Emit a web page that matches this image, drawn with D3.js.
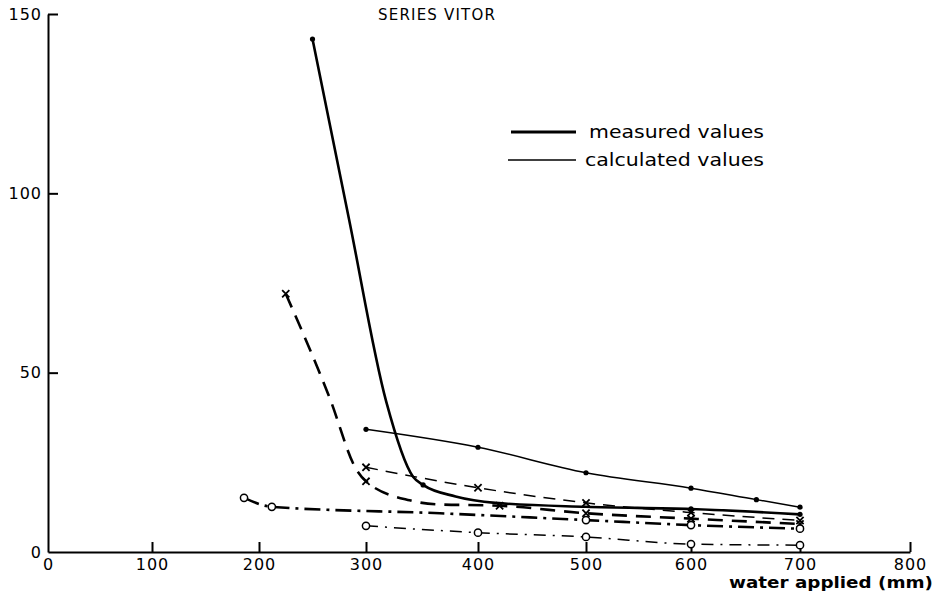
<!DOCTYPE html>
<html>
<head>
<meta charset="utf-8">
<script src="https://cdn.jsdelivr.net/npm/d3@7"></script>
<style>
  body { margin: 0; background: #fff; }
  svg { display: block; }
  text { font-family: "DejaVu Sans", sans-serif; fill: #000; }
</style>
</head>
<body>
<svg width="936" height="599"></svg>
<script>
// axis ticks (the hand drawn x axis is slightly uneven, so ticks map to where they were drawn)
const xTicks = [0, 100, 200, 300, 400, 500, 600, 700, 800];
const xTickPx = [48, 152, 259, 366, 478, 586, 691, 800, 910];
const yTicks = [0, 50, 100, 150];

// measured values (heavy lines)
const measDotX = [250, 284, 318, 342, 351, 380, 416, 500, 600, 700];
const measDotY = [143, 93, 42, 21, 18.7, 15.5, 13.7, 12.6, 12, 10.5];
const measDotMarks = [250, 351, 600, 700];

const measCrossX = [225, 266, 291, 300, 339, 363, 420, 500, 600, 700];
const measCrossY = [72, 43, 23, 19.7, 14.4, 13.3, 12.9, 10.8, 9.3, 7.8];
const measCrossMarks = [225, 300, 420, 500, 600, 700];

const measCircleX = [186, 212, 366, 500, 600, 700];
const measCircleY = [15.1, 12.6, 10.8, 8.9, 7.5, 6.5];
const measCircleMarks = [186, 212, 500, 600, 700];

// calculated values (light lines)
const calcDotX = [300, 400, 500, 600, 660, 700];
const calcDotY = [34.2, 29.2, 22.1, 17.8, 14.6, 12.5];

const calcCrossX = [300, 400, 500, 600, 700];
const calcCrossY = [23.6, 17.9, 13.7, 11, 8.8];

const calcCircleX = [300, 400, 500, 600, 700];
const calcCircleY = [7.3, 5.4, 4.2, 2.2, 1.9];

const svg = d3.select('svg');

const x = d3.scaleLinear().domain(xTicks).range(xTickPx);
const y = d3.scaleLinear().domain([0, 150]).range([552, 14]);

// axes
const xAxis = svg.append('g')
  .attr('transform', `translate(0,${y(0)})`)
  .call(d3.axisBottom(x).tickValues(xTicks).tickSizeInner(-10).tickSizeOuter(0).tickPadding(7));
const yAxis = svg.append('g')
  .attr('transform', `translate(${x(0)},0)`)
  .call(d3.axisLeft(y).tickValues(yTicks).tickSizeInner(-10).tickSizeOuter(0).tickPadding(6));

[xAxis, yAxis].forEach(g => {
  g.attr('font-family', null).attr('font-size', null);
  g.select('.domain').attr('stroke-width', 2);
  g.selectAll('.tick line').attr('stroke-width', 2);
  g.selectAll('.tick text')
    .style('font-size', '16px')
    .style('letter-spacing', '1px');
});
yAxis.selectAll('.tick').filter(d => d === 0).select('line').remove();
xAxis.selectAll('.tick').filter(d => d === 0).select('line').remove();

svg.append('text')
  .attr('x', 378).attr('y', 20)
  .style('font-size', '15px')
  .style('letter-spacing', '1.2px')
  .text('SERIES VITOR');

svg.append('text')
  .attr('x', 933).attr('y', 588)
  .attr('text-anchor', 'end')
  .attr('textLength', 204)
  .attr('lengthAdjust', 'spacingAndGlyphs')
  .style('font-size', '16px')
  .style('font-weight', 'bold')
  .text('water applied (mm)');

// legend
svg.append('line').attr('x1', 511).attr('x2', 576).attr('y1', 132).attr('y2', 132)
  .attr('stroke', '#000').attr('stroke-width', 3);
svg.append('text').attr('x', 589).attr('y', 138)
  .attr('textLength', 175).attr('lengthAdjust', 'spacingAndGlyphs')
  .style('font-size', '17px').text('measured values');
svg.append('line').attr('x1', 508).attr('x2', 576).attr('y1', 160).attr('y2', 160)
  .attr('stroke', '#000').attr('stroke-width', 1.6);
svg.append('text').attr('x', 585).attr('y', 166)
  .attr('textLength', 179).attr('lengthAdjust', 'spacingAndGlyphs')
  .style('font-size', '17px').text('calculated values');

const line = d3.line()
  .x(d => x(d[0]))
  .y(d => y(d[1]))
  .curve(d3.curveMonotoneX);

const series = [
  { xs: measDotX, ys: measDotY, marks: measDotMarks, marker: 'dot', width: 2.6, dash: null },
  { xs: measCrossX, ys: measCrossY, marks: measCrossMarks, marker: 'cross', width: 2.6, dash: '15,9' },
  { xs: measCircleX, ys: measCircleY, marks: measCircleMarks, marker: 'circle', width: 2.6, dash: '16,6,3,6' },
  { xs: calcDotX, ys: calcDotY, marks: calcDotX, marker: 'dot', width: 1.5, dash: null },
  { xs: calcCrossX, ys: calcCrossY, marks: calcCrossX, marker: 'cross', width: 1.5, dash: '12,8' },
  { xs: calcCircleX, ys: calcCircleY, marks: calcCircleX, marker: 'circle', width: 1.5, dash: '12,7,2,7' }
];

series.forEach(s => {
  const pts = s.xs.map((v, i) => [v, s.ys[i]]);
  svg.append('path')
    .datum(pts)
    .attr('d', line)
    .attr('fill', 'none')
    .attr('stroke', '#000')
    .attr('stroke-width', s.width)
    .attr('stroke-dasharray', s.dash);

  const marked = pts.filter(p => s.marks.includes(p[0]));
  if (s.marker === 'dot') {
    svg.selectAll(null).data(marked).enter().append('circle')
      .attr('cx', d => x(d[0])).attr('cy', d => y(d[1]))
      .attr('r', 2.6).attr('fill', '#000');
  } else if (s.marker === 'circle') {
    svg.selectAll(null).data(marked).enter().append('circle')
      .attr('cx', d => x(d[0])).attr('cy', d => y(d[1]))
      .attr('r', 3.6).attr('fill', '#fff')
      .attr('stroke', '#000').attr('stroke-width', 1.5);
  } else {
    svg.selectAll(null).data(marked).enter().append('path')
      .attr('d', d => {
        const cx = x(d[0]), cy = y(d[1]), r = 3.6;
        return `M${cx - r},${cy - r}L${cx + r},${cy + r}M${cx - r},${cy + r}L${cx + r},${cy - r}`;
      })
      .attr('stroke', '#000').attr('stroke-width', 1.8);
  }
});
</script>
</body>
</html>
